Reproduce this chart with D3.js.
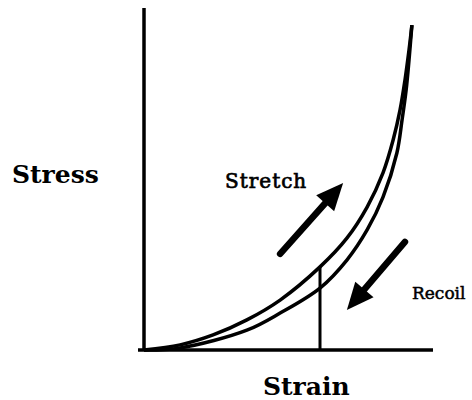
<!DOCTYPE html>
<html>
<head>
<meta charset="utf-8">
<script src="https://cdn.jsdelivr.net/npm/d3@7"></script>
<style>
  body { margin: 0; background: #fff; }
  text { fill: #000; font-family: "DejaVu Serif", serif; }
</style>
</head>
<body>
<div id="chart"></div>
<script>
// strain / stress values, both normalised to 0..1
var stretchStrain = [0, 0.125, 0.239, 0.356, 0.471, 0.609, 0.702, 0.772, 0.827, 0.862, 0.886, 0.903, 0.917, 0.927];
var stretchStress = [0, 0.015, 0.044, 0.088, 0.146, 0.243, 0.327, 0.418, 0.518, 0.614, 0.702, 0.789, 0.877, 0.950];

var recoilStrain = [0, 0.125, 0.356, 0.471, 0.609, 0.702, 0.772, 0.827, 0.875, 0.893, 0.907, 0.917, 0.927];
var recoilStress = [0, 0.006, 0.058, 0.108, 0.181, 0.263, 0.351, 0.447, 0.576, 0.673, 0.760, 0.848, 0.950];

// drop line from the stretch curve down to the strain axis
var markStrain = 0.609;
var markStress = 0.243;

// arrows: tail and tip as [strain, stress]
var arrows = [
  { name: "Stretch", from: [0.471, 0.281], to: [0.689, 0.488] },
  { name: "Recoil", from: [0.903, 0.316], to: [0.702, 0.117] }
];

var width = 472, height = 400;

var svg = d3.select('#chart')
  .append('svg')
  .attr('width', width)
  .attr('height', height);

var x = d3.scaleLinear().domain([0, 1]).range([144, 433]);
var y = d3.scaleLinear().domain([0, 1]).range([350, 8]);

// axes (plain lines, no ticks)
svg.append('line')
  .attr('x1', x(0)).attr('x2', x(0))
  .attr('y1', y(0) + 1).attr('y2', y(1))
  .attr('stroke', '#000').attr('stroke-width', 3.5);

svg.append('line')
  .attr('x1', x(0) - 6).attr('x2', x(1))
  .attr('y1', y(0)).attr('y2', y(0))
  .attr('stroke', '#000').attr('stroke-width', 3.5);

var line = d3.line()
  .x(d => x(d[0]))
  .y(d => y(d[1]))
  .curve(d3.curveCatmullRom.alpha(0.5));

svg.append('path')
  .datum(d3.zip(stretchStrain, stretchStress))
  .attr('d', line)
  .attr('fill', 'none')
  .attr('stroke', '#000')
  .attr('stroke-width', 3.5);

svg.append('path')
  .datum(d3.zip(recoilStrain, recoilStress))
  .attr('d', line)
  .attr('fill', 'none')
  .attr('stroke', '#000')
  .attr('stroke-width', 3.5);

svg.append('line')
  .attr('x1', x(markStrain)).attr('x2', x(markStrain))
  .attr('y1', y(0)).attr('y2', y(markStress))
  .attr('stroke', '#000').attr('stroke-width', 3);

// arrows
var headLen = 27, headHalf = 12;
arrows.forEach(function (a) {
  var x0 = x(a.from[0]), y0 = y(a.from[1]);
  var x1 = x(a.to[0]), y1 = y(a.to[1]);
  var dx = x1 - x0, dy = y1 - y0;
  var len = Math.sqrt(dx * dx + dy * dy);
  var ux = dx / len, uy = dy / len;
  var bx = x1 - ux * headLen, by = y1 - uy * headLen;

  svg.append('line')
    .attr('x1', x0).attr('y1', y0)
    .attr('x2', bx + ux * 2).attr('y2', by + uy * 2)
    .attr('stroke', '#000')
    .attr('stroke-width', 6.5)
    .attr('stroke-linecap', 'round');

  svg.append('path')
    .attr('d', 'M' + x1 + ',' + y1 +
      'L' + (bx - uy * headHalf) + ',' + (by + ux * headHalf) +
      'L' + (bx + uy * headHalf) + ',' + (by - ux * headHalf) + 'Z')
    .attr('fill', '#000');
});

// labels
svg.append('text')
  .attr('x', 12).attr('y', 183)
  .style('font-size', '25px').style('font-weight', 'bold')
  .text('Stress');

svg.append('text')
  .attr('x', 263).attr('y', 395)
  .style('font-size', '25px').style('font-weight', 'bold')
  .text('Strain');

svg.append('text')
  .attr('x', 225).attr('y', 188)
  .style('font-size', '20px')
  .style('letter-spacing', '1px')
  .style('stroke', '#000').style('stroke-width', 0.7)
  .text('Stretch');

svg.append('text')
  .attr('x', 412).attr('y', 299)
  .style('font-size', '17px')
  .style('stroke', '#000').style('stroke-width', 0.5)
  .text('Recoil');
</script>
</body>
</html>
